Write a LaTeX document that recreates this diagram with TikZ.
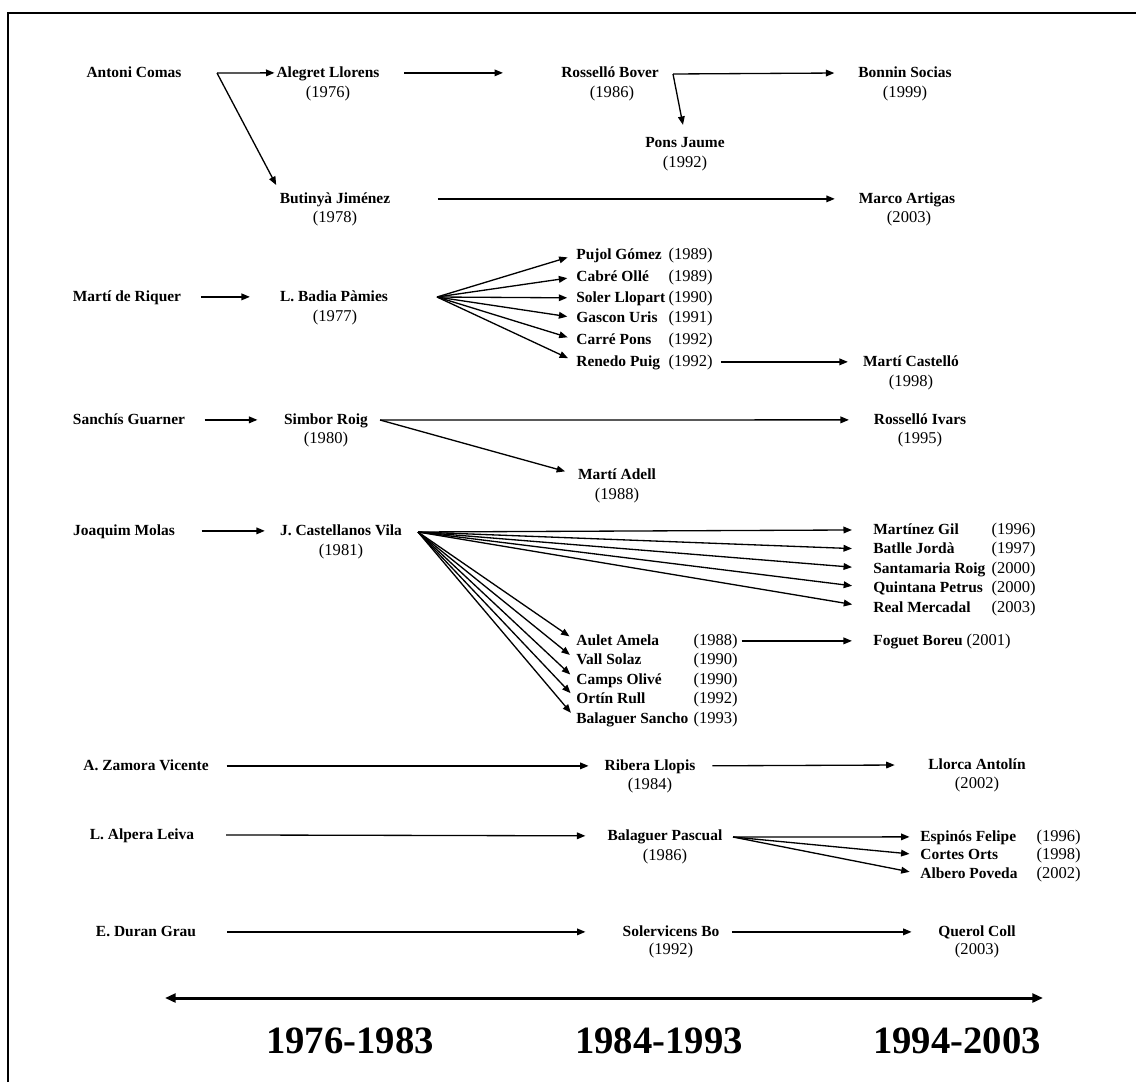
\documentclass[tikz,border=0pt]{standalone}
\usepackage{fontspec}
\setmainfont{Liberation Serif}
\usetikzlibrary{arrows.meta}
\newcommand\diagfont{\fontsize{8.8}{10}\selectfont}
\newcommand\yearfont{\fontsize{9.4}{10}\selectfont}
\tikzset{
  nm/.style={font=\diagfont\bfseries, inner sep=0pt, text height=6.5pt, text depth=1.8pt, anchor=base},
  yr/.style={font=\yearfont, inner sep=0pt, text height=6.5pt, text depth=1.8pt, anchor=base},
  arr/.style={-{Triangle[length=4.8pt,width=3.8pt]}, line width=0.75pt},
  period/.style={font=\fontsize{22}{26}\selectfont\bfseries, anchor=base}
}
\begin{document}
\begin{tikzpicture}[x=0.02cm, y=-0.02cm]
		\useasboundingbox (0,0) rectangle (1136,1082);
		\draw [line width=1.2pt] (8,1082) -- (8,13) -- (1136,13);

		% Antoni Comas
		\node (comas) at (134,77) [nm] {Antoni Comas};
		\coordinate (comasO) at (217,73);
		\node (alegret) at (328,77) [nm] {Alegret Llorens};
		\node (alegretY) at (328,97) [yr] {(1976)};
		\node (rossello) at (610,77) [nm] {Rosselló Bover};
		\node (rosselloY) at (612,97) [yr] {(1986)};
		\coordinate (rossO) at (673,74);
		\node (bonnin) at (905,77) [nm] {Bonnin Socias};
		\node (bonninY) at (905,97) [yr] {(1999)};
		\node (pons) at (685,147) [nm] {Pons Jaume};
		\node (ponsY) at (685,167) [yr] {(1992)};
		\node (butinya) at (335,203) [nm] {Butinyà Jiménez};
		\node (butinyaY) at (335,222) [yr] {(1978)};
		\node (marco) at (907,203) [nm] {Marco Artigas};
		\node (marcoY) at (909,222) [yr] {(2003)};

		\draw [arr, shorten >=1pt] (comasO) -- (alegret.west);
		\draw [arr, shorten >=4pt] (comasO) -- (butinya.north west);
		\draw [arr, shorten <=14pt, shorten >=33pt] (alegret.east) -- (rossello.west);
		\draw [arr, shorten >=13.5pt] (rossO) -- (bonnin.west);
		\draw [arr, shorten >=6pt] (rossO) -- (pons.north);
		\draw [arr, shorten <=27pt, shorten >=13.5pt] (butinya.east) -- (marco.west);

		% Marti de Riquer
		\node (riquer) at (127,301) [nm] {Martí de Riquer};
		\node (badia) at (334,301) [nm] {L. Badia Pàmies};
		\node (badiaY) at (335,321) [yr] {(1977)};
		\coordinate (badiaO) at (437,297);
		\node (pujol) at (576,259) [nm, anchor=base west] {Pujol Gómez};
		\node (pujolY) at (713,259) [yr, anchor=base east] {(1989)};
		\node (cabre) at (576,281) [nm, anchor=base west] {Cabré Ollé};
		\node (cabreY) at (713,281) [yr, anchor=base east] {(1989)};
		\node (soler) at (576,302) [nm, anchor=base west] {Soler Llopart};
		\node (solerY) at (713,302) [yr, anchor=base east] {(1990)};
		\node (gascon) at (576,322) [nm, anchor=base west] {Gascon Uris};
		\node (gasconY) at (713,322) [yr, anchor=base east] {(1991)};
		\node (carre) at (576,344) [nm, anchor=base west] {Carré Pons};
		\node (carreY) at (713,344) [yr, anchor=base east] {(1992)};
		\node (renedo) at (576,366) [nm, anchor=base west] {Renedo Puig};
		\node (renedoY) at (713,366) [yr, anchor=base east] {(1992)};
		\node (castello) at (911,366) [nm] {Martí Castelló};
		\node (castelloY) at (911,386) [yr] {(1998)};

		\draw [arr, shorten <=11pt, shorten >=17pt] (riquer.east) -- (badia.west);
		\draw [arr, shorten >=5pt] (badiaO) -- (pujol.west);
		\draw [arr, shorten >=5pt] (badiaO) -- (cabre.west);
		\draw [arr, shorten >=5pt] (badiaO) -- (soler.west);
		\draw [arr, shorten >=5pt] (badiaO) -- (gascon.west);
		\draw [arr, shorten >=5pt] (badiaO) -- (carre.west);
		\draw [arr, shorten >=5pt] (badiaO) -- (renedo.west);
		\draw [arr, shorten <=4.5pt, shorten >=8.5pt] (renedoY.east) -- (castello.west);

		% Sanchis Guarner
		\node (guarner) at (129,424) [nm] {Sanchís Guarner};
		\node (simbor) at (326,424) [nm] {Simbor Roig};
		\node (simborY) at (326,443) [yr] {(1980)};
		\coordinate (simborO) at (380,420);
		\node (ivars) at (920,424) [nm] {Rosselló Ivars};
		\node (ivarsY) at (920,443) [yr] {(1995)};
		\node (adell) at (617,479) [nm] {Martí Adell};
		\node (adellY) at (617,499) [yr] {(1988)};

		\draw [arr, shorten <=11pt, shorten >=15pt] (guarner.east) -- (simbor.west);
		\draw [arr, shorten >=14pt] (simborO) -- (ivars.west);
		\draw [arr, shorten >=7.5pt] (simborO) -- (adell.west);

		% Joaquim Molas
		\node (molas) at (124,535) [nm] {Joaquim Molas};
		\node (castellanos) at (341,535) [nm] {J. Castellanos Vila};
		\node (castellanosY) at (341,555) [yr] {(1981)};
		\coordinate (castO) at (418,532);
		\node (martinez) at (873,534) [nm, anchor=base west] {Martínez Gil};
		\node (martinezY) at (1036,534) [yr, anchor=base east] {(1996)};
		\node (batlle) at (873,553.5) [nm, anchor=base west] {Batlle Jordà};
		\node (batlleY) at (1036,553.5) [yr, anchor=base east] {(1997)};
		\node (santamaria) at (873,573) [nm, anchor=base west] {Santamaria Roig};
		\node (santamariaY) at (1036,573) [yr, anchor=base east] {(2000)};
		\node (quintana) at (873,592.5) [nm, anchor=base west] {Quintana Petrus};
		\node (quintanaY) at (1036,592.5) [yr, anchor=base east] {(2000)};
		\node (real) at (873,612) [nm, anchor=base west] {Real Mercadal};
		\node (realY) at (1036,612) [yr, anchor=base east] {(2003)};
		\node (aulet) at (576,645) [nm, anchor=base west] {Aulet Amela};
		\node (auletY) at (738,645) [yr, anchor=base east] {(1988)};
		\node (vall) at (576,664) [nm, anchor=base west] {Vall Solaz};
		\node (vallY) at (738,664) [yr, anchor=base east] {(1990)};
		\node (camps) at (576,684) [nm, anchor=base west] {Camps Olivé};
		\node (campsY) at (738,684) [yr, anchor=base east] {(1990)};
		\node (ortin) at (576,703) [nm, anchor=base west] {Ortín Rull};
		\node (ortinY) at (738,703) [yr, anchor=base east] {(1992)};
		\node (balsancho) at (576,723) [nm, anchor=base west] {Balaguer Sancho};
		\node (balsanchoY) at (738,723) [yr, anchor=base east] {(1993)};
		\node (foguet) at (873,645) [yr, anchor=base west] {\diagfont\textbf{Foguet Boreu} \yearfont(2001)};

		\draw [arr, shorten <=15pt, shorten >=8.5pt] (molas.east) -- (castellanos.west);
		\draw [arr, shorten >=12pt] (castO) -- (martinez.west);
		\draw [arr, shorten >=12pt] (castO) -- (batlle.west);
		\draw [arr, shorten >=12pt] (castO) -- (santamaria.west);
		\draw [arr, shorten >=12pt] (castO) -- (quintana.west);
		\draw [arr, shorten >=12pt] (castO) -- (real.west);
		\draw [arr, shorten >=4.5pt] (castO) -- (aulet.west);
		\draw [arr, shorten >=4.5pt] (castO) -- (vall.west);
		\draw [arr, shorten >=4.5pt] (castO) -- (camps.west);
		\draw [arr, shorten >=4.5pt] (castO) -- (ortin.west);
		\draw [arr, shorten >=4.5pt] (castO) -- (balsancho.west);
		\draw [arr, shorten <=2pt, shorten >=12pt] (auletY.east) -- (foguet.west);

		% A. Zamora Vicente
		\node (zamora) at (146,770) [nm] {A. Zamora Vicente};
		\node (ribera) at (650,770) [nm] {Ribera Llopis};
		\node (riberaY) at (650,789) [yr] {(1984)};
		\node (llorca) at (977,769) [nm] {Llorca Antolín};
		\node (llorcaY) at (977,788) [yr] {(2002)};

		\draw [arr, shorten <=10pt, shorten >=9pt] (zamora.east) -- (ribera.west);
		\draw [arr, shorten <=9.5pt, shorten >=19pt] (ribera.east) -- (llorca.west);

		% L. Alpera Leiva
		\node (alpera) at (142,839) [nm] {L. Alpera Leiva};
		\node (pascual) at (665,840) [nm] {Balaguer Pascual};
		\node (pascualY) at (665,860) [yr] {(1986)};
		\coordinate (pascualO) at (733,837);
		\node (espinos) at (920,841) [nm, anchor=base west] {Espinós Felipe};
		\node (espinosY) at (1081,841) [yr, anchor=base east] {(1996)};
		\node (cortes) at (920,859) [nm, anchor=base west] {Cortes Orts};
		\node (cortesY) at (1081,859) [yr, anchor=base east] {(1998)};
		\node (albero) at (920,878) [nm, anchor=base west] {Albero Poveda};
		\node (alberoY) at (1081,878) [yr, anchor=base east] {(2002)};

		\draw [arr, shorten <=18pt, shorten >=12.5pt] (alpera.east) -- (pascual.west);
		\draw [arr, shorten >=6pt] (pascualO) -- (espinos.west);
		\draw [arr, shorten >=6pt] (pascualO) -- (cortes.west);
		\draw [arr, shorten >=6pt] (pascualO) -- (albero.west);

		% E. Duran Grau
		\node (duran) at (146,936) [nm] {E. Duran Grau};
		\node (solervicens) at (671,936) [nm] {Solervicens Bo};
		\node (solervicensY) at (671,954) [yr] {(1992)};
		\node (querol) at (977,936) [nm] {Querol Coll};
		\node (querolY) at (977,954) [yr] {(2003)};

		\draw [arr, shorten <=17.5pt, shorten >=21pt] (duran.east) -- (solervicens.west);
		\draw [arr, shorten <=7pt, shorten >=15pt] (solervicens.east) -- (querol.west);

		% time line
		\coordinate (tlL) at (165,998);
		\coordinate (tlR) at (1043,998);
		\draw [{Triangle[length=6pt,width=5pt]}-{Triangle[length=6pt,width=5pt]}, line width=1.7pt] (tlL) -- (tlR);
		\node (p1) at (350,1053) [period] {1976-1983};
		\node (p2) at (659,1053) [period] {1984-1993};
		\node (p3) at (957,1053) [period] {1994-2003};

\end{tikzpicture}
\end{document}
